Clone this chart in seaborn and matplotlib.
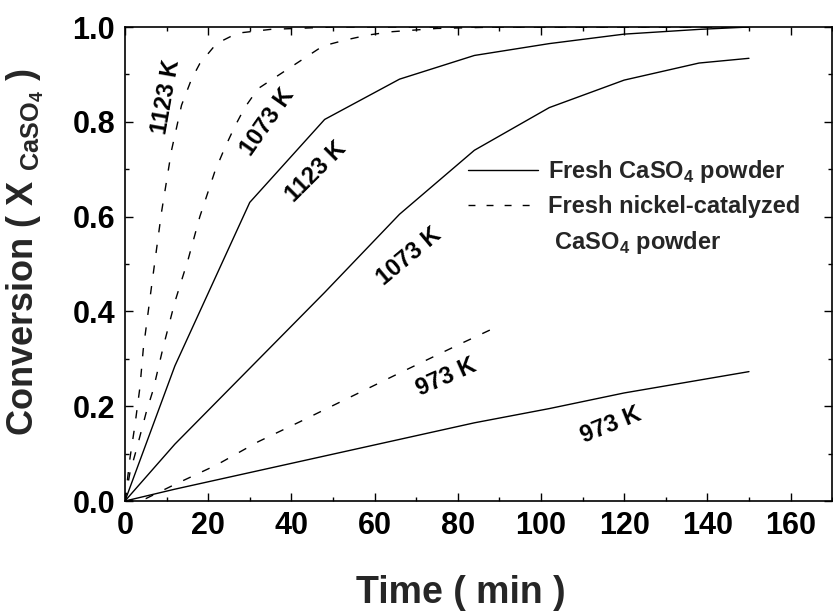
import matplotlib
matplotlib.use("Agg")
import matplotlib.pyplot as plt
from matplotlib.ticker import MultipleLocator
from matplotlib.lines import Line2D
import seaborn as sns
import pandas as pd

# %% data
# solid lines: fresh CaSO4 powder
t_solid = [0, 12, 30, 48, 66, 84, 102, 120, 138, 150]
x_solid_1123 = [0, 0.285, 0.630, 0.805, 0.890, 0.940, 0.965, 0.985, 0.995, 1.0]
x_solid_1073 = [0, 0.120, 0.280, 0.440, 0.605, 0.740, 0.830, 0.888, 0.924, 0.934]
x_solid_973 = [0, 0.025, 0.060, 0.095, 0.130, 0.165, 0.195, 0.228, 0.255, 0.273]

# dashed lines: fresh nickel-catalyzed CaSO4 powder
t_cat_1123 = [0, 1.2, 2.4, 3.6, 4.4, 6.5, 8.8, 11.2, 13.6, 16, 18, 22, 27, 35, 50, 80, 120, 150]
x_cat_1123 = [0, 0.09, 0.16, 0.24, 0.32, 0.46, 0.61, 0.74, 0.835, 0.89, 0.923, 0.965, 0.987,
              0.995, 1.0, 1.0, 1.0, 1.0]
t_cat_1073 = [0, 1.2, 2.8, 5.2, 6.8, 9.2, 12, 15.2, 18, 21.6, 24, 26.4, 28.8, 32, 37.2, 42.4,
              47.6, 53.2, 58.4, 64, 75, 90, 120, 150]
x_cat_1073 = [0, 0.06, 0.11, 0.19, 0.235, 0.325, 0.42, 0.51, 0.60, 0.695, 0.745, 0.79, 0.83,
              0.87, 0.90, 0.93, 0.96, 0.973, 0.983, 0.99, 0.997, 1.0, 1.0, 1.0]
t_cat_973 = [0, 5, 12, 22, 32, 42, 52, 66, 80, 90]
x_cat_973 = [0, 0.005, 0.035, 0.076, 0.125, 0.167, 0.210, 0.270, 0.329, 0.370]

# label text, position (time, conversion) and rotation
curve_labels = ["1123 K", "1073 K", "1123 K", "1073 K", "973 K", "973 K"]
label_t = [10, 34.4, 46, 68.4, 77.2, 116.8]
label_x = [0.853, 0.80, 0.695, 0.515, 0.262, 0.160]
label_rot = [80, 55, 45, 40, 24, 22]

# %% build long table
frames = []
for temp, t, x in [("1123", t_solid, x_solid_1123), ("1073", t_solid, x_solid_1073),
                   ("973", t_solid, x_solid_973)]:
    frames.append(pd.DataFrame({"time": t, "conv": x, "sample": "fresh", "temp": temp}))
for temp, t, x in [("1123", t_cat_1123, x_cat_1123), ("1073", t_cat_1073, x_cat_1073),
                   ("973", t_cat_973, x_cat_973)]:
    frames.append(pd.DataFrame({"time": t, "conv": x, "sample": "cat", "temp": temp}))
df = pd.concat(frames, ignore_index=True)

# %% style
sns.set_theme(style="ticks")
plt.rcParams["font.family"] = ["Liberation Sans", "DejaVu Sans"]
plt.rcParams["mathtext.fontset"] = "custom"
plt.rcParams["mathtext.rm"] = "Liberation Sans"
plt.rcParams["mathtext.bf"] = "Liberation Sans:bold"
plt.rcParams["font.weight"] = "bold"

fig = plt.figure(figsize=(8.33, 6.14), dpi=100)
ax = fig.add_axes([0.150, 0.184, 0.849, 0.772])

dash = (6, 9)
for (sample, temp), sub in df.groupby(["sample", "temp"]):
    sns.lineplot(data=sub, x="time", y="conv", ax=ax, color="black", lw=1.0,
                 sort=False, estimator=None,
                 **({} if sample == "fresh" else {"linestyle": (0, dash)}))

for txt, tx, cx, rot in zip(curve_labels, label_t, label_x, label_rot):
    ax.text(tx, cx, txt, rotation=rot, rotation_mode="anchor", ha="center", va="center",
            fontsize=17, fontweight="bold", color="black")

ax.set_xlim(0, 170)
ax.set_ylim(0, 1.0)
ax.xaxis.set_major_locator(MultipleLocator(20))
ax.yaxis.set_major_locator(MultipleLocator(0.2))
ax.xaxis.set_minor_locator(MultipleLocator(10))
ax.yaxis.set_minor_locator(MultipleLocator(0.1))
ax.tick_params(which="both", direction="in", top=True, right=True, width=1.0, colors="black")
ax.tick_params(which="major", length=6, labelsize=22, pad=7)
ax.tick_params(which="minor", length=3)
for lab in ax.get_xticklabels() + ax.get_yticklabels():
    lab.set_fontweight("bold")
for s in ax.spines.values():
    s.set_linewidth(1.2)
    s.set_color("black")

ax.set_xlabel("Time ( min )", fontsize=27, fontweight="bold")
ax.set_ylabel(r"Conversion ( X $_{\mathregular{CaSO_4}}$ )", fontsize=26, fontweight="bold")
ax.xaxis.set_label_coords(0.475, -0.156)
ax.yaxis.set_label_coords(-0.112, 0.525)

# legend: the second entry wraps onto a third line without its own handle
handles = [Line2D([], [], color="black", lw=1.0),
           Line2D([], [], color="black", lw=1.0, linestyle=(0, (5, 8))),
           Line2D([], [], color="none", lw=0)]
leg_labels = [r"Fresh CaSO$_\mathbf{4}$ powder", "Fresh nickel-catalyzed",
              r" CaSO$_\mathbf{4}$ powder"]
ax.legend(handles, leg_labels, loc="upper left", bbox_to_anchor=(0.485, 0.724),
          frameon=False, prop={"size": 17, "weight": "bold"}, handlelength=2.95,
          handletextpad=0.42, labelspacing=0.45, borderpad=0, borderaxespad=0)

fig.savefig("out.png", dpi=100)
